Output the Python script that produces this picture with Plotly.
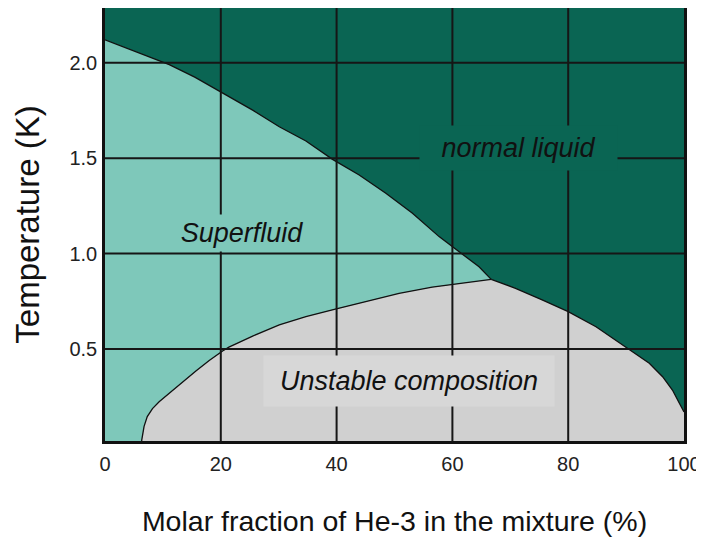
import plotly.graph_objects as go

# ---- data ----
# lambda line: superfluid / normal liquid boundary (x = % He-3, T in K)
lambda_x = [0, 4.7, 7.0, 11.1, 15.5, 20.0, 25.5, 30.1, 34.7, 39.3, 43.9, 48.5, 53.1, 57.7, 60.0, 64.6, 66.7]
lambda_T = [2.12, 2.066, 2.038, 1.99, 1.925, 1.848, 1.752, 1.665, 1.590, 1.494, 1.412, 1.316, 1.211, 1.089, 1.036, 0.931, 0.865]

# phase separation curve, superfluid (He-4 rich) side, from tricritical point down
sep_sf_x = [66.7, 62.3, 56.5, 50.8, 45.0, 39.6, 34.7, 30.1, 25.5, 21.4, 20.3, 18.0, 15.7, 13.4, 11.1, 9.35, 8.2, 7.3, 6.75, 6.35, 6.3]
sep_sf_T = [0.865, 0.847, 0.824, 0.792, 0.750, 0.708, 0.670, 0.627, 0.568, 0.510, 0.490, 0.440, 0.385, 0.329, 0.268, 0.224, 0.188, 0.146, 0.095, 0.024, 0.0]

# phase separation curve, normal (He-3 rich) side, from tricritical point down
sep_n_x = [66.7, 70.9, 75.5, 80.0, 84.8, 90.5, 94.0, 96.3, 98.0, 99.2, 100.0]
sep_n_T = [0.865, 0.818, 0.757, 0.696, 0.617, 0.499, 0.425, 0.355, 0.285, 0.216, 0.17]

x_ticks = [0, 20, 40, 60, 80, 100]
x_tick_labels = ["0", "20", "40", "60", "80", "100"]
y_ticks = [0.5, 1.0, 1.5, 2.0]
y_tick_labels = ["0.5", "1.0", "1.5", "2.0"]
x_range = [0, 100]
y_range = [0.018, 2.287]

region_labels = ["normal liquid", "Superfluid", "Unstable composition"]
region_label_x = [71.5, 23.7, 52.5]
region_label_T = [1.555, 1.11, 0.335]

DARK = "#0a6553"
TEAL = "#7ec8ba"
GRAY = "#d0d0d0"
FONT = "Liberation Sans, Arial, Helvetica, sans-serif"

fig = go.Figure()

# superfluid region
sf_x = [x_range[0]] + lambda_x + sep_sf_x + [x_range[0]]
sf_T = [0.0] + lambda_T + sep_sf_T + [0.0]
fig.add_trace(go.Scatter(x=sf_x, y=sf_T, fill="toself", fillcolor=TEAL,
                         mode="lines", line=dict(width=0), hoverinfo="skip"))

# unstable region
un_x = sep_sf_x[::-1] + sep_n_x[1:] + [x_range[1]]
un_T = sep_sf_T[::-1] + sep_n_T[1:] + [0.0]
fig.add_trace(go.Scatter(x=un_x, y=un_T, fill="toself", fillcolor=GRAY,
                         mode="lines", line=dict(width=0), hoverinfo="skip"))

# boundary outlines
for bx, bt in [(lambda_x, lambda_T), (sep_sf_x, sep_sf_T), (sep_n_x, sep_n_T)]:
    fig.add_trace(go.Scatter(x=bx, y=bt, mode="lines",
                             line=dict(color="#111111", width=1.3), hoverinfo="skip"))

# grid lines drawn above the filled regions
shapes = []
for xv in x_ticks[1:-1]:
    shapes.append(dict(type="line", xref="x", yref="y", x0=xv, x1=xv,
                       y0=y_range[0], y1=y_range[1], layer="above",
                       line=dict(color="#161616", width=2)))
for yv in y_ticks:
    shapes.append(dict(type="line", xref="x", yref="y", x0=x_range[0], x1=x_range[1],
                       y0=yv, y1=yv, layer="above",
                       line=dict(color="#161616", width=2)))

box_bg = [DARK, TEAL, "#d7d7d7"]
box_w = [197, 140, 290]
box_h = [44, 36, 50]
annotations = []
for txt, ax_, ay_, bg, w, h in zip(region_labels, region_label_x, region_label_T, box_bg, box_w, box_h):
    annotations.append(dict(x=ax_, y=ay_, xref="x", yref="y", text="<i>" + txt + "</i>",
                            showarrow=False,
                            font=dict(family=FONT, size=27, color="#111111"),
                            bgcolor=bg, width=w, height=h, borderpad=0,
                            xanchor="center", yanchor="middle"))

# page body has an 8px margin, so the figure is sized to fill the 704x540 window
fig.update_layout(
    width=696, height=532,
    margin=dict(l=97, r=20, t=0, b=99),
    paper_bgcolor="white",
    plot_bgcolor=DARK,
    showlegend=False,
    shapes=shapes,
    annotations=annotations,
    font=dict(family=FONT, color="#222222"),
)
fig.update_xaxes(range=x_range, tickvals=x_ticks, ticktext=x_tick_labels,
                 showgrid=False, zeroline=False,
                 showline=True, mirror=True, linecolor="#111111", linewidth=2.5,
                 ticks="outside", ticklen=3, tickcolor="rgba(0,0,0,0)",
                 tickfont=dict(size=20, family=FONT, color="#222222"),
                 title=dict(text="Molar fraction of He-3 in the mixture (%)",
                            font=dict(size=28.5, family=FONT, color="#111111"), standoff=38),
                 layer="above traces", automargin=False)
fig.update_yaxes(range=y_range, tickvals=y_ticks, ticktext=y_tick_labels,
                 showgrid=False, zeroline=False,
                 showline=True, mirror=True, linecolor="#111111", linewidth=2.5,
                 ticks="outside", ticklen=1, tickcolor="rgba(0,0,0,0)",
                 tickfont=dict(size=20, family=FONT, color="#222222"),
                 title=dict(text="Temperature (K)",
                            font=dict(size=33, family=FONT, color="#111111"), standoff=20),
                 layer="above traces", automargin=False)

fig.write_html("out.html")
